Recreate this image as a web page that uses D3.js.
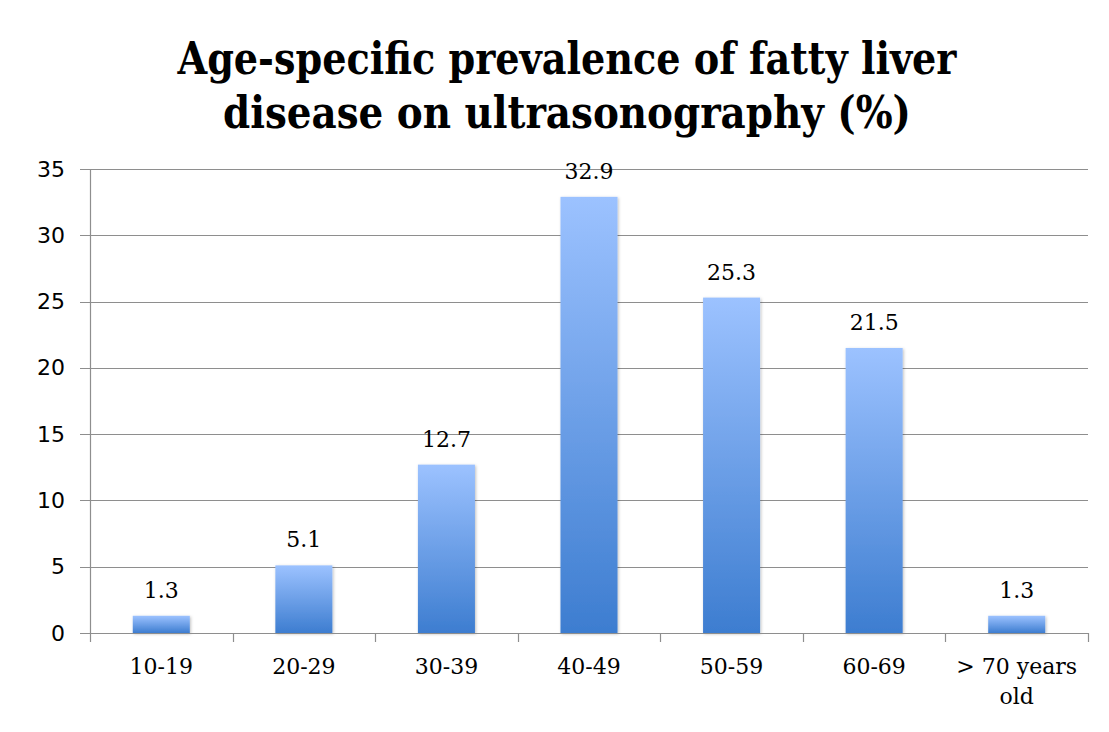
<!DOCTYPE html>
<html>
<head>
<meta charset="utf-8">
<script src="https://cdn.jsdelivr.net/npm/d3@7"></script>
<style>
  body { margin: 0; background: #fff; }
  svg { display: block; }
</style>
</head>
<body>
<svg id="chart" width="1109" height="732"></svg>
<script>
// data
const categories = ["10-19", "20-29", "30-39", "40-49", "50-59", "60-69", "> 70 years old"];
const prevalence = [1.3, 5.1, 12.7, 32.9, 25.3, 21.5, 1.3];
const yTicks = [0, 5, 10, 15, 20, 25, 30, 35];
const titleLines = ["Age-specific prevalence of fatty liver", "disease on ultrasonography (%)"];

let svg = d3.select("#chart");
let plotLeft = 90, plotRight = 1088, plotTop = 169, plotBottom = 633;

let x = d3.scaleBand()
    .domain(categories)
    .range([plotLeft, plotRight])
    .paddingInner(0.6)
    .paddingOuter(0.3);

let y = d3.scaleLinear()
    .domain([0, 35])
    .range([plotBottom, plotTop]);

// gradient for bars (light on top, darker at bottom)
let defs = svg.append("defs");
let grad = defs.append("linearGradient")
    .attr("id", "barGrad")
    .attr("x1", 0).attr("y1", 0).attr("x2", 0).attr("y2", 1);
grad.append("stop").attr("offset", "0%").attr("stop-color", "#9cc2ff");
grad.append("stop").attr("offset", "100%").attr("stop-color", "#3d7dd0");

let shadow = defs.append("filter").attr("id", "shadow")
    .attr("x", "-20%").attr("y", "-20%").attr("width", "140%").attr("height", "140%");
shadow.append("feDropShadow")
    .attr("dx", 1).attr("dy", 1).attr("stdDeviation", 1.5)
    .attr("flood-color", "#000").attr("flood-opacity", 0.25);

// title
svg.append("g")
    .selectAll("text")
    .data(titleLines)
    .join("text")
    .attr("x", 567)
    .attr("y", (d, i) => 74 + i * 54)
    .attr("text-anchor", "middle")
    .attr("font-family", "'DejaVu Serif Condensed', 'DejaVu Serif', serif")
    .attr("font-weight", "bold")
    .attr("font-size", 45)
    .attr("textLength", (d, i) => i == 0 ? 779 : 688)
    .attr("lengthAdjust", "spacingAndGlyphs")
    .attr("fill", "#000")
    .text(d => d);

// gridlines
svg.append("g")
    .selectAll("line")
    .data(yTicks)
    .join("line")
    .attr("x1", plotLeft - 10)
    .attr("x2", plotRight)
    .attr("y1", d => Math.round(y(d)) + 0.5)
    .attr("y2", d => Math.round(y(d)) + 0.5)
    .attr("stroke", "#8e8e8e")
    .attr("stroke-width", 1.2);

// y axis
let yAxis = svg.append("g")
    .attr("transform", `translate(${plotLeft},0)`)
    .call(d3.axisLeft(y).tickValues(yTicks).tickSize(10).tickPadding(15));
yAxis.select(".domain").attr("stroke", "#8e8e8e").attr("stroke-width", 1.2);
yAxis.selectAll(".tick line").remove();
yAxis.selectAll("text")
    .attr("font-family", "'DejaVu Sans', sans-serif")
    .attr("font-size", 22)
    .attr("fill", "#000");

// x axis ticks at band edges
let edges = categories.map(c => x(c) - x.step() * x.paddingInner() / 2);
edges.push(plotRight);
svg.append("g")
    .selectAll("line")
    .data(edges)
    .join("line")
    .attr("x1", d => Math.round(d) + 0.5)
    .attr("x2", d => Math.round(d) + 0.5)
    .attr("y1", plotBottom)
    .attr("y2", plotBottom + 9)
    .attr("stroke", "#8e8e8e")
    .attr("stroke-width", 1.2);

// bars
svg.append("g")
    .selectAll("rect")
    .data(prevalence)
    .join("rect")
    .attr("x", (d, i) => x(categories[i]))
    .attr("y", d => y(d))
    .attr("width", x.bandwidth())
    .attr("height", d => y(0) - y(d))
    .attr("fill", "url(#barGrad)")
    .attr("filter", "url(#shadow)");

// x axis baseline drawn over the bars
svg.append("line")
    .attr("x1", plotLeft - 10).attr("x2", plotRight)
    .attr("y1", Math.round(y(0)) + 0.5).attr("y2", Math.round(y(0)) + 0.5)
    .attr("stroke", "#8e8e8e").attr("stroke-width", 1.2);

// value labels
svg.append("g")
    .selectAll("text")
    .data(prevalence)
    .join("text")
    .attr("x", (d, i) => x(categories[i]) + x.bandwidth() / 2)
    .attr("y", d => y(d) - 18)
    .attr("text-anchor", "middle")
    .attr("font-family", "'DejaVu Serif', serif")
    .attr("font-size", 22)
    .attr("fill", "#000")
    .text(d => d);

// category labels, the last one wraps on two lines
let catLabels = svg.append("g")
    .selectAll("text")
    .data(categories)
    .join("text")
    .attr("x", d => x(d) + x.bandwidth() / 2)
    .attr("y", 674)
    .attr("text-anchor", "middle")
    .attr("font-family", "'DejaVu Serif', serif")
    .attr("font-size", 22)
    .attr("fill", "#000");

catLabels.each(function(d) {
    let parts = d == "> 70 years old" ? ["> 70 years", "old"] : [d];
    d3.select(this)
        .selectAll("tspan")
        .data(parts)
        .join("tspan")
        .attr("x", x(d) + x.bandwidth() / 2)
        .attr("dy", (p, i) => i == 0 ? 0 : 30)
        .text(p => p);
});
</script>
</body>
</html>
